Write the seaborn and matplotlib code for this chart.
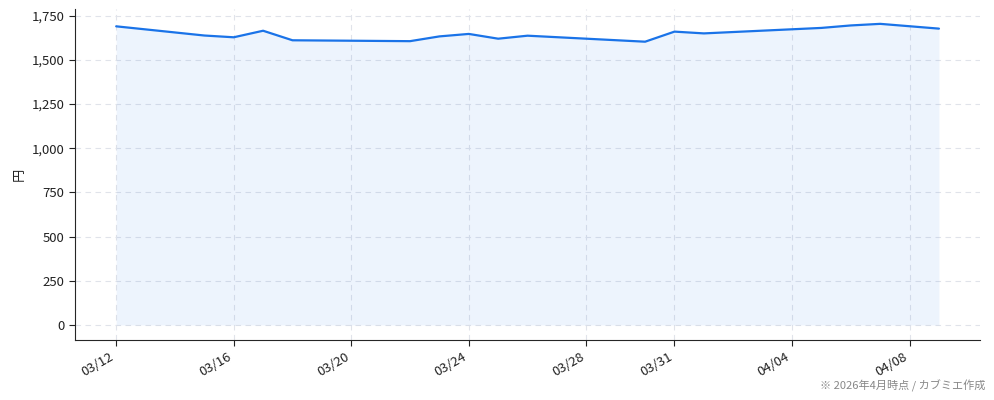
import pandas as pd
import seaborn as sns
import matplotlib
matplotlib.use("Agg")
from matplotlib import pyplot as plt
from matplotlib.ticker import FuncFormatter
import matplotlib.dates as mdates

# 株価の推移（読み取り値）
dates = ["2026-03-12", "2026-03-15", "2026-03-16", "2026-03-17", "2026-03-18",
         "2026-03-22", "2026-03-23", "2026-03-24", "2026-03-25", "2026-03-26",
         "2026-03-30", "2026-03-31", "2026-04-01", "2026-04-05", "2026-04-06",
         "2026-04-07", "2026-04-09"]
prices = [1690, 1638, 1628, 1665, 1611,
          1606, 1633, 1647, 1620, 1637,
          1603, 1660, 1650, 1681, 1695,
          1704, 1677]
tick_dates = ["2026-03-12", "2026-03-16", "2026-03-20", "2026-03-24",
              "2026-03-28", "2026-03-31", "2026-04-04", "2026-04-08"]

df = pd.DataFrame({"date": pd.to_datetime(dates), "price": prices})

sns.set_style("white")
plt.rcParams['font.family'] = ['Noto Sans CJK JP', 'DejaVu Sans']

line_color = "#1a73e8"
fig, ax = plt.subplots(figsize=(9.94, 4), dpi=100)
fig.subplots_adjust(left=0.0755, right=0.986, top=0.978, bottom=0.15)

sns.lineplot(data=df, x="date", y="price", ax=ax, color=line_color, linewidth=1.6)
ax.fill_between(df["date"], df["price"], 0, color=line_color, alpha=0.075, linewidth=0)

ax.set_xticks(pd.to_datetime(tick_dates))
ax.xaxis.set_major_formatter(mdates.DateFormatter("%m/%d"))
ax.yaxis.set_major_formatter(FuncFormatter(lambda v, p: f"{v:,.0f}"))
ax.set_yticks(range(0, 1751, 250))

ax.grid(True, linestyle=(0, (5, 4)), color="#e0e3ea", linewidth=0.8)
sns.despine(ax=ax)
ax.tick_params(axis="both", labelsize=9.5, colors="#222222", length=4, direction="out",
               bottom=True, left=True)
plt.setp(ax.get_xticklabels(), rotation=30, ha="right")

ax.set_xlabel("")
ax.set_ylabel("円", fontsize=9.5, color="#222222")

fig.text(0.991, 0.02, "※ 2026年4月時点 / カブミエ作成", ha="right", va="bottom",
         fontsize=8, color="#888888")

fig.savefig("out.png", dpi=100)
